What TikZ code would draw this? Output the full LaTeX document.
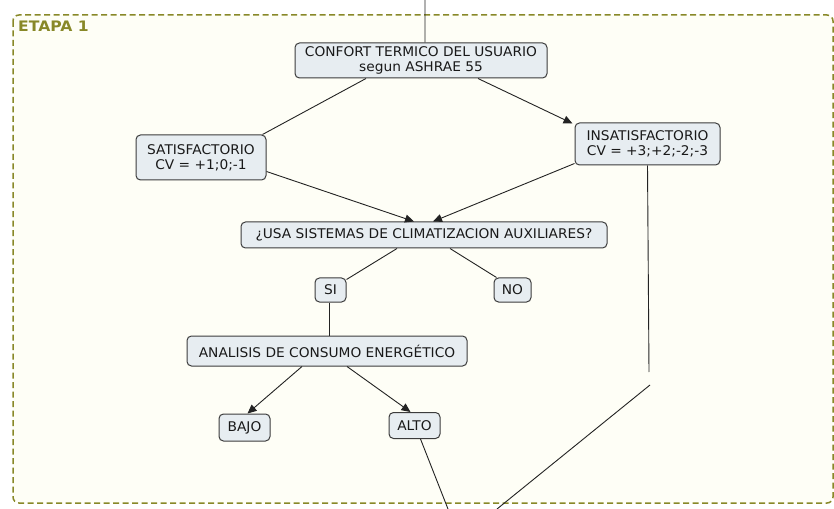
\documentclass[tikz,border=0pt]{standalone}
\usepackage{fontspec}
\setmainfont{DejaVu Sans}
\newfontfamily\nodefont[FakeStretch=1.03]{DejaVu Sans}
\newfontfamily\etapafont[FakeStretch=1.08]{DejaVu Sans}
\usetikzlibrary{arrows.meta}
\definecolor{olive1}{RGB}{136,136,40}
\definecolor{framebg}{RGB}{254,254,246}
\definecolor{nodebg}{RGB}{231,237,241}
\definecolor{nodeedge}{RGB}{60,60,60}
\definecolor{linec}{RGB}{35,35,35}
\tikzset{
  concept/.style={draw=nodeedge, line width=1bp, fill=nodebg, rounded corners=4.5bp,
    align=center, inner sep=0pt, font=\nodefont\fontsize{13.4}{14.8}\selectfont, text=black!90},
  link/.style={draw=linec, line width=0.9bp},
  arr/.style={link, -{Triangle[length=9bp,width=8bp]}},
}
\begin{document}
\begin{tikzpicture}[x=1bp,y=-1bp]
\useasboundingbox (0,0) rectangle (834,509);
% frame
\draw[olive1, line width=1.5bp, dash pattern=on 6bp off 3.5bp, fill=framebg, rounded corners=6bp]
  (13,15) rectangle (833,503);
\node[anchor=north west, inner sep=0pt, text=olive1, font=\etapafont\bfseries\fontsize{14.5}{15}\selectfont] (etapa) at (18,20.5) {ETAPA 1};

% nodes
\node[concept, minimum width=252bp, minimum height=35bp] (conf) at (421,60.5) {CONFORT TERMICO DEL USUARIO\\segun ASHRAE 55};
\node[concept, minimum width=130bp, minimum height=45bp] (sat) at (201,157.5) {SATISFACTORIO\\CV = +1;0;-1};
\node[concept, minimum width=145bp, minimum height=42bp] (insat) at (647.5,144) {INSATISFACTORIO\\CV = +3;+2;-2;-3};
\node[concept, minimum width=366bp, minimum height=26bp] (usa) at (424,235) {¿USA SISTEMAS DE CLIMATIZACION AUXILIARES?};
\node[concept, minimum width=31bp, minimum height=24bp] (si) at (330.5,290) {SI};
\node[concept, minimum width=37bp, minimum height=24bp] (no) at (512.5,290) {NO};
\node[concept, minimum width=280bp, minimum height=30bp] (ana) at (327,351) {ANALISIS DE CONSUMO ENERGÉTICO};
\node[concept, minimum width=51bp, minimum height=27bp] (bajo) at (244.5,427.5) {BAJO};
\node[concept, minimum width=51bp, minimum height=26bp] (alto) at (414.5,425.5) {ALTO};

% free ends
\coordinate (top) at (425,0);
\coordinate (altoend) at (448,509);
\coordinate (insatbend) at (649,372);
\coordinate (insatcont) at (650,385);
\coordinate (insatend) at (497,509);

% connectors (yshift is in canvas direction: positive = up)
\draw[link] (top) -- ([xshift=4bp]conf.north);
\draw[link] ([xshift=-55bp]conf.south) -- ([xshift=-4bp]sat.north east);
\draw[arr] ([xshift=57bp]conf.south) -- ([xshift=-2bp,yshift=-1bp]insat.north west);
\draw[arr] ([yshift=9bp]sat.south east) -- ([xshift=-10bp]usa.north);
\draw[arr] ([yshift=2bp]insat.south west) -- ([xshift=9bp]usa.north);
\draw[link] ([xshift=-27bp]usa.south) -- ([yshift=-2bp]si.north east);
\draw[link] ([xshift=26bp]usa.south) -- ([xshift=3bp]no.north west);
\draw[link] ([xshift=-1bp]si.south) -- ([xshift=-1bp]si.south |- ana.north);
\draw[arr] ([xshift=-25bp]ana.south) -- ([xshift=3bp]bajo.north);
\draw[arr] ([xshift=20bp]ana.south) -- ([xshift=-4bp]alto.north);
\draw[link] ([xshift=6bp]alto.south) -- (altoend);
\draw[link] (insat.south) -- (insatbend);
\draw[link] (insatcont) -- (insatend);
\end{tikzpicture}
\end{document}
